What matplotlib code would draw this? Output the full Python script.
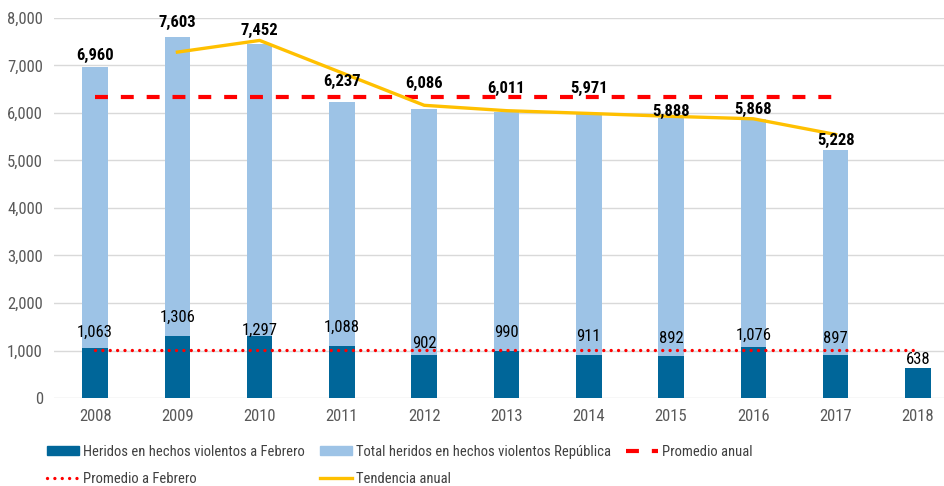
import matplotlib
matplotlib.use('Agg')
import matplotlib.pyplot as plt
from matplotlib.lines import Line2D
from matplotlib.patches import Patch

plt.rcParams['font.family'] = ['Roboto Condensed', 'DejaVu Sans']

years = ['2008', '2009', '2010', '2011', '2012', '2013', '2014', '2015', '2016', '2017', '2018']
total = [6960, 7603, 7452, 6237, 6086, 6011, 5971, 5888, 5868, 5228, None]
febrero = [1063, 1306, 1297, 1088, 902, 990, 911, 892, 1076, 897, 638]
promedio_anual = [6330] * 10          # 2008-2017
promedio_feb = [1005] * 11            # 2008-2018
tendencia = [7282, 7528, 6845, 6162, 6049, 5991, 5930, 5878, 5548]  # 2009-2017

# label offsets above the bar top, in pixels (as placed in the original)
off_total = [12, 14, 14, 20, 25, 24, 26, 7, 10, 9]
off_feb = [15, 19, 6, 19, 12, 18, 18, 17, 12, 17, 8]

x = list(range(len(years)))
w = 0.31

fig = plt.figure(figsize=(9.45, 4.86), dpi=100)
ax = fig.add_axes([54/945, 1 - 398/486, (945-54)/945, 380/486])

tot_x = [i for i, v in zip(x, total) if v is not None]
tot_v = [v for v in total if v is not None]
ax.bar(tot_x, tot_v, width=w, color='#9dc3e6', zorder=2)
ax.bar(x, febrero, width=w, color='#006699', zorder=3)
ax.plot(x[:10], promedio_anual, color='#ff0000', lw=3, ls=(0, (3.1, 3.1)), zorder=4)
ax.plot(x, promedio_feb, color='#ff0000', lw=2.4, ls=(0, (0.01, 2.2)),
        dash_capstyle='round', zorder=4)
ax.plot(x[1:10], tendencia, color='#ffc000', lw=2.4, zorder=5)

for i, v, o in zip(tot_x, tot_v, off_total):
    ax.annotate(f'{v:,}', (i, v), xytext=(0, o), textcoords='offset pixels',
                ha='center', va='center', fontsize=12, fontweight='bold',
                color='black', zorder=6)
for i, v, o in zip(x, febrero, off_feb):
    ax.annotate(f'{v:,}', (i, v), xytext=(0, o), textcoords='offset pixels',
                ha='center', va='center', fontsize=12, color='black', zorder=6)

ax.set_ylim(0, 8000)
ax.set_xlim(-0.5, 10.33)
ax.set_yticks(range(0, 8001, 1000))
ax.set_yticklabels([f'{v:,}' for v in range(0, 8001, 1000)])
ax.set_xticks(x)
ax.set_xticklabels(years)
ax.tick_params(axis='both', length=0, labelsize=12, labelcolor='#595959', pad=8)
ax.grid(axis='y', color='#d9d9d9', lw=1, zorder=0)
ax.set_axisbelow(True)
for s in ax.spines.values():
    s.set_visible(False)

handles = [
    Patch(color='#006699'),
    Line2D([], [], color='#ff0000', lw=2.4, ls=(0, (0.01, 2.2)), dash_capstyle='round'),
    Patch(color='#9dc3e6'),
    Line2D([], [], color='#ffc000', lw=2.4),
    Line2D([], [], color='#ff0000', lw=3, ls=(0, (3.1, 3.1))),
]
labels = ['Heridos en hechos violentos a Febrero', 'Promedio a Febrero',
          'Total heridos en hechos violentos República', 'Tendencia anual',
          'Promedio anual']
fig.legend(handles, labels, ncol=3, loc='upper left', bbox_to_anchor=(47/945, 1 - 445/486),
           frameon=False, fontsize=10.5, labelcolor='#404040', handlelength=2.2,
           handleheight=0.6, columnspacing=1.0, labelspacing=0.9, handletextpad=0.3,
           borderaxespad=0, borderpad=0)

fig.savefig('out.png', dpi=100)
